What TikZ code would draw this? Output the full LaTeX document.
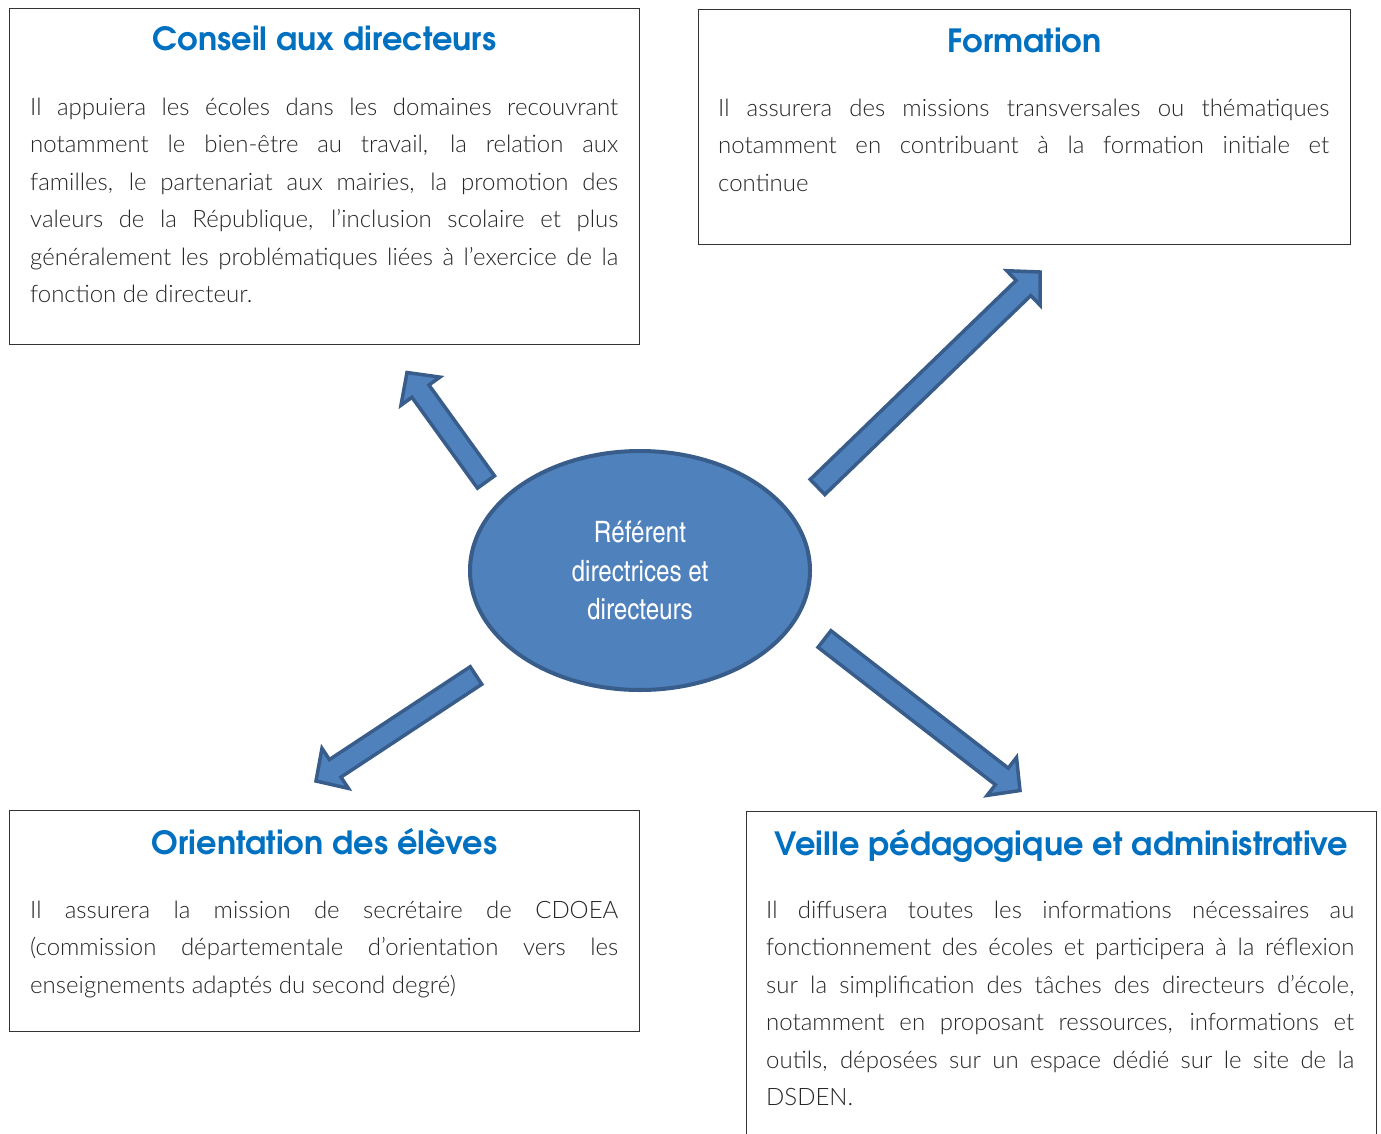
\documentclass[tikz,border=0pt]{standalone}
\usepackage{fontspec}
\usetikzlibrary{shapes.geometric,calc,positioning}
\IfFontExistsTF{Lato Light}{\newfontfamily\corpsfont{Lato Light}}{\newfontfamily\corpsfont{Lato}}
\newfontfamily\titrefont{texgyreadventor-bold.otf}
\newfontfamily\ovalefont{texgyreheroscn-regular.otf}
\definecolor{titrebleu}{HTML}{0070C0}
\definecolor{ovalefond}{HTML}{4F81BD}
\definecolor{ovalebord}{HTML}{385D8A}
% one justified line of a box text
\newcommand\ligne[1]{\makebox[\linewidth][s]{#1}\par}
% block arrow from #1 (tail) to #2 (tip)
\newcommand\blockarrow[2]{%
  \coordinate (ba-j) at ($(#2)!23pt!(#1)$);
  \draw[fleche] ($(#1)!10.5pt!90:(#2)$) -- ($(ba-j)!10.5pt!90:(#2)$) -- ($(ba-j)!24pt!90:(#2)$)
    -- (#2) -- ($(ba-j)!24pt!-90:(#2)$) -- ($(ba-j)!10.5pt!-90:(#2)$) -- ($(#1)!10.5pt!-90:(#2)$) -- cycle;}

\begin{document}
\begin{tikzpicture}[x=1pt,y=-1pt,
    cadre/.style={draw=black!80,line width=1.2pt,rectangle,anchor=north west,inner sep=0pt,minimum width=630pt},
    titre/.style={font=\titrefont\fontsize{32}{38}\selectfont,text=titrebleu,anchor=base,inner sep=0pt},
    corps/.style={font=\corpsfont\fontsize{24}{37.5}\selectfont,text=black!85,text width=588pt,align=justify,
      anchor=base west,inner sep=0pt},
    fleche/.style={fill=ovalefond,draw=ovalebord,line width=3.5pt,line join=miter}]
  \path[use as bounding box,fill=white] (0,0) rectangle (1381,1133);

  % the four boxes
  \node[cadre,minimum height=336pt] (conseil) at (9,8) {};
  \node[cadre,minimum width=652pt,minimum height=235pt] (formation) at (698,9) {};
  \node[cadre,minimum height=221pt] (orientation) at (9,810) {};
  \node[cadre,minimum height=334pt] (veille) at (746,811) {};

  \node[titre] (conseil-titre) at ([yshift=-42pt]conseil.north) {Conseil aux directeurs};
  \node[titre] (formation-titre) at ([yshift=-43pt]formation.north) {Formation};
  \node[titre] (orientation-titre) at ([yshift=-44pt]orientation.north) {Orientation des élèves};
  \node[titre] (veille-titre) at ([yshift=-44pt]veille.north) {Veille pédagogique et administrative};

  \node[corps] (conseil-texte) at ([xshift=21pt,yshift=-107pt]conseil.north west) {%
    \ligne{Il appuiera les écoles dans les domaines recouvrant}
    \ligne{notamment le bien-être au travail, la relation aux}
    \ligne{familles, le partenariat aux mairies, la promotion des}
    \ligne{valeurs de la République, l’inclusion scolaire et plus}
    \ligne{généralement les problématiques liées à l’exercice de la}
    fonction de directeur.};
  \node[corps,text width=611pt] (formation-texte) at ([xshift=20pt,yshift=-107pt]formation.north west) {%
    \ligne{Il assurera des missions transversales ou thématiques}
    \ligne{notamment en contribuant à la formation initiale et}
    continue};
  \node[corps] (orientation-texte) at ([xshift=21pt,yshift=-108pt]orientation.north west) {%
    \ligne{Il assurera la mission de secrétaire de CDOEA}
    \ligne{(commission départementale d’orientation vers les}
    enseignements adaptés du second degré)};
  \node[corps] (veille-texte) at ([xshift=20pt,yshift=-107pt]veille.north west) {%
    \ligne{Il diffusera toutes les informations nécessaires au}
    \ligne{fonctionnement des écoles et participera à la réflexion}
    \ligne{sur la simplification des tâches des directeurs d’école,}
    \ligne{notamment en proposant ressources, informations et}
    \ligne{outils, déposées sur un espace dédié sur le site de la}
    DSDEN.};

  % centre
  \node[ellipse,fill=ovalefond,draw=ovalebord,line width=4pt,minimum width=340pt,minimum height=239pt,
    inner sep=0pt,align=center,text=white,font=\ovalefont\fontsize{29.5}{38.5}\selectfont]
    (referent) at (640,570.5) {Référent\\directrices et\\directeurs};

  % arrows
  \coordinate (f1-queue) at (486,482);    \coordinate (f1-pointe) at (407,372.5);
  \coordinate (f2-queue) at (817.5,487);  \coordinate (f2-pointe) at (1040,272);
  \coordinate (f3-queue) at (476,675.5);  \coordinate (f3-pointe) at (316,781);
  \coordinate (f4-queue) at (824.5,639);  \coordinate (f4-pointe) at (1020,790.5);
  \foreach \n in {1,...,4}
    \blockarrow{f\n-queue}{f\n-pointe};
\end{tikzpicture}
\end{document}
